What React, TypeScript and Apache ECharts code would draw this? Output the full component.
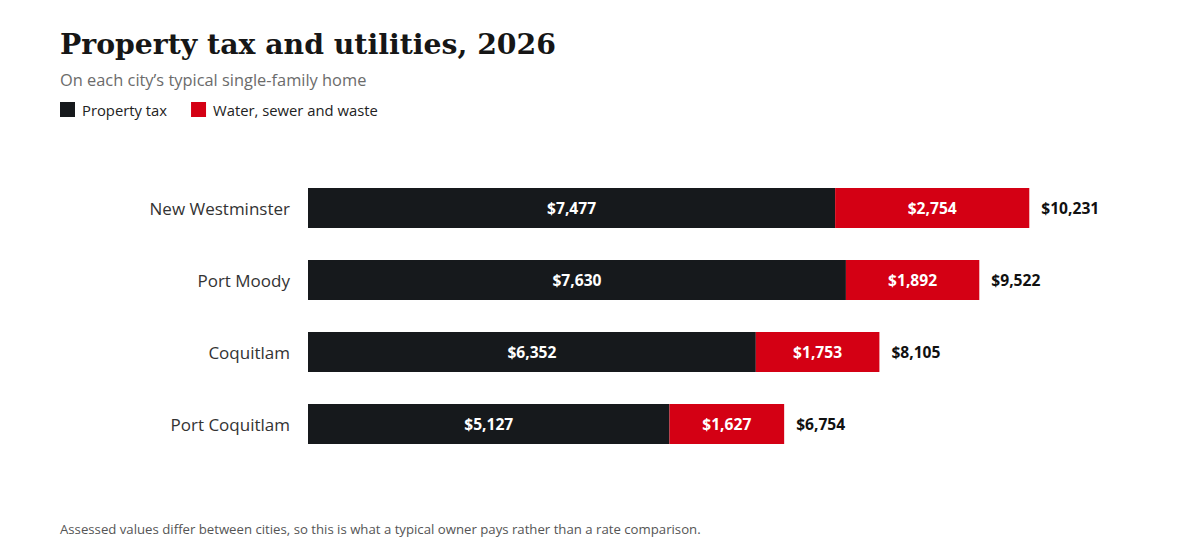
import React, { useEffect, useRef } from "react";
import * as echarts from "echarts";

const cities = ["New Westminster", "Port Moody", "Coquitlam", "Port Coquitlam"];
const propertyTax = [7477, 7630, 6352, 5127];
const utilities = [2754, 1892, 1753, 1627];
const seriesNames = ["Property tax", "Water, sewer and waste"];

const fmt = (v: number) => "$" + v.toLocaleString("en-US");
const SANS = "'Open Sans', 'Noto Sans', sans-serif";

export default function App() {
  const ref = useRef<HTMLDivElement>(null);
  useEffect(() => {
    document.body.style.margin = "0";
    const chart = echarts.init(ref.current!, null, { renderer: "svg" });
    const totals = propertyTax.map((v, i) => v + utilities[i]);
    chart.setOption({
      animation: false,
      backgroundColor: "#ffffff",
      title: [
        {
          text: "Property tax and utilities, 2026",
          left: 60,
          top: 30,
          padding: 0,
          textStyle: { fontFamily: "'DejaVu Serif', serif", fontWeight: "bold", fontSize: 28.3, color: "#161616" },
        },
        {
          text: "On each city\u2019s typical single-family home",
          left: 60,
          top: 71,
          padding: 0,
          textStyle: { fontFamily: SANS, fontWeight: "normal", fontSize: 16.4, color: "#6b6b6b" },
        },
        {
          text: "Assessed values differ between cities, so this is what a typical owner pays rather than a rate comparison.",
          left: 60,
          top: 522,
          padding: 0,
          textStyle: { fontFamily: SANS, fontWeight: "normal", fontSize: 13.2, color: "#555" },
        },
      ],
      legend: {
        left: 60,
        top: 102,
        padding: 0,
        itemWidth: 15,
        itemHeight: 15,
        itemGap: 24,
        icon: "rect",
        data: seriesNames,
        textStyle: { fontFamily: SANS, fontSize: 14.8, color: "#222", padding: [0, 0, 0, 2] },
      },
      grid: { left: 308, right: 46, top: 172, bottom: 100, containLabel: false },
      xAxis: { type: "value", min: 0, max: 12000, show: false },
      yAxis: {
        type: "category",
        data: cities,
        inverse: true,
        axisLine: { show: false },
        axisTick: { show: false },
        axisLabel: { fontFamily: SANS, fontSize: 17, color: "#333", margin: 18 },
      },
      series: [
        {
          name: seriesNames[0],
          type: "bar",
          stack: "total",
          barWidth: 40,
          data: propertyTax,
          itemStyle: { color: "#16191c" },
          label: {
            show: true,
            position: "inside",
            formatter: (p: any) => fmt(p.value),
            fontFamily: SANS,
            fontWeight: "bold",
            fontSize: 15.6,
            color: "#fff",
          },
        },
        {
          name: seriesNames[1],
          type: "bar",
          stack: "total",
          barWidth: 40,
          data: utilities,
          itemStyle: { color: "#d40014" },
          label: {
            show: true,
            position: "inside",
            formatter: (p: any) => fmt(p.value),
            fontFamily: SANS,
            fontWeight: "bold",
            fontSize: 15.6,
            color: "#fff",
          },
        },
        {
          name: "Total",
          type: "scatter",
          symbolSize: 0,
          silent: true,
          itemStyle: { opacity: 1 },
          data: totals.map((t, i) => [t, cities[i]]),
          label: {
            show: true,
            position: "right",
            distance: 12,
            opacity: 1,
            formatter: (p: any) => fmt(p.value[0]),
            fontFamily: SANS,
            fontWeight: "bold",
            fontSize: 15.6,
            color: "#111",
          },
        },
      ],
    });
    return () => chart.dispose();
  }, []);
  return <div ref={ref} style={{ width: 1200, height: 560 }} />;
}
